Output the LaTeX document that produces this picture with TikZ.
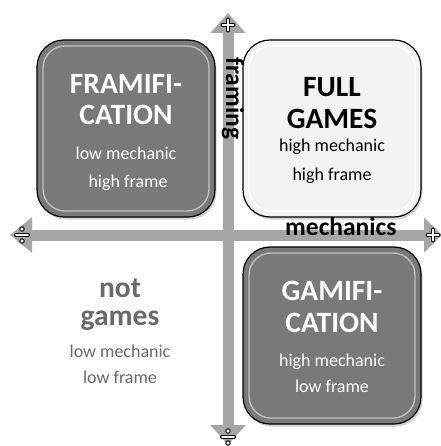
\documentclass[tikz,border=0pt]{standalone}
\usepackage{fontspec}
\setmainfont{Carlito}
\usetikzlibrary{arrows.meta,shadows}
\definecolor{axisgray}{HTML}{A6A6A6}
\definecolor{boxdark}{HTML}{797979}
\definecolor{boxlight}{HTML}{F3F3F3}
\definecolor{softgray}{HTML}{6A6A6A}
\begin{document}
\begin{tikzpicture}[x=1pt,y=-1pt,
  quadbox/.style={draw=black,line width=1.2pt,rounded corners=27pt,
    drop shadow={opacity=0.35,shadow xshift=1.5pt,shadow yshift=-2.5pt}},
  rim/.style={draw=white,line width=1.3pt,opacity=0.55,rounded corners=22pt},
  title/.style={anchor=base,font=\bfseries\fontsize{29.5}{29.5}\selectfont,inner sep=0pt},
  sub/.style={anchor=base,font=\fontsize{18}{18}\selectfont,inner sep=0pt},
  axislabel/.style={font=\bfseries\fontsize{25.5}{25.5}\selectfont,inner sep=0pt},
  axis/.style={axisgray,line width=11pt},
  tipmark/.style={line cap=round},
]
\useasboundingbox[fill=white] (0,0) rectangle (440,446);

% quadrant boxes
\draw[quadbox,fill=boxdark] (37,40) rectangle (215,217);
\draw[rim] (43,46) rectangle (209,211);
\draw[quadbox,fill=boxlight] (243,40) rectangle (421,217);
\draw[rim,draw=white,opacity=0.9] (249,46) rectangle (415,211);
\draw[quadbox,fill=boxdark] (243,247) rectangle (421,424);
\draw[rim] (249,253) rectangle (415,418);

% axes
\coordinate (yb) at (228,445);
\coordinate (yt) at (228,13);
\coordinate (xl) at (10,235);
\coordinate (xr) at (442,235);
\draw[axis,{Triangle[width=34pt,length=20pt]}-{Triangle[width=34pt,length=20pt]}] (yb) -- (yt);
\draw[axis,{Triangle[width=34pt,length=22pt]}-{Triangle[width=34pt,length=18pt]}] (xl) -- (xr);

% plus and divide marks on the arrow heads
\foreach \px/\py in {228/25, 433/235}{
  \draw[tipmark,black,line width=4pt] (\px-5.5,\py) -- (\px+5.5,\py) (\px,\py-5.5) -- (\px,\py+5.5);
  \draw[tipmark,white,line width=1.8pt] (\px-5.5,\py) -- (\px+5.5,\py) (\px,\py-5.5) -- (\px,\py+5.5);
}
\foreach \px/\py in {22/235, 228/437}{
  \draw[tipmark,black,line width=4pt] (\px-6,\py) -- (\px+6,\py);
  \draw[tipmark,white,line width=1.8pt] (\px-6,\py) -- (\px+6,\py);
  \filldraw[fill=white,draw=black,line width=1pt] (\px,\py-6) circle (2.2) (\px,\py+6) circle (2.2);
}

% axis labels
\node[axislabel,rotate=-90,anchor=base west] (framing) at (226,57) {framing};
\node[axislabel,anchor=base west] (mech) at (285,235) {mechanics};

% framification
\node[title,text=white] (fr1) at (126,94) {FRAMIFI-};
\node[title,text=white] (fr2) at (126,125) {CATION};
\node[sub,text=white] (fr3) at (126,160) {low mechanic};
\node[sub,text=white] (fr4) at (128,187) {high frame};

% full games
\node[title,text=black] (fg1) at (332,97) {FULL};
\node[title,text=black] (fg2) at (332,129) {GAMES};
\node[sub,text=black] (fg3) at (332,152) {high mechanic};
\node[sub,text=black] (fg4) at (332,181) {high frame};

% gamification
\node[title,text=white] (ga1) at (332,300) {GAMIFI-};
\node[title,text=white] (ga2) at (332,332) {CATION};
\node[sub,text=white] (ga3) at (332,366) {high mechanic};
\node[sub,text=white] (ga4) at (332,392) {low frame};

% not games
\node[title,text=softgray] (ng1) at (120,297) {not};
\node[title,text=softgray] (ng2) at (120,325) {games};
\node[sub,text=softgray] (ng3) at (120,357) {low mechanic};
\node[sub,text=softgray] (ng4) at (120,383) {low frame};
\end{tikzpicture}
\end{document}
